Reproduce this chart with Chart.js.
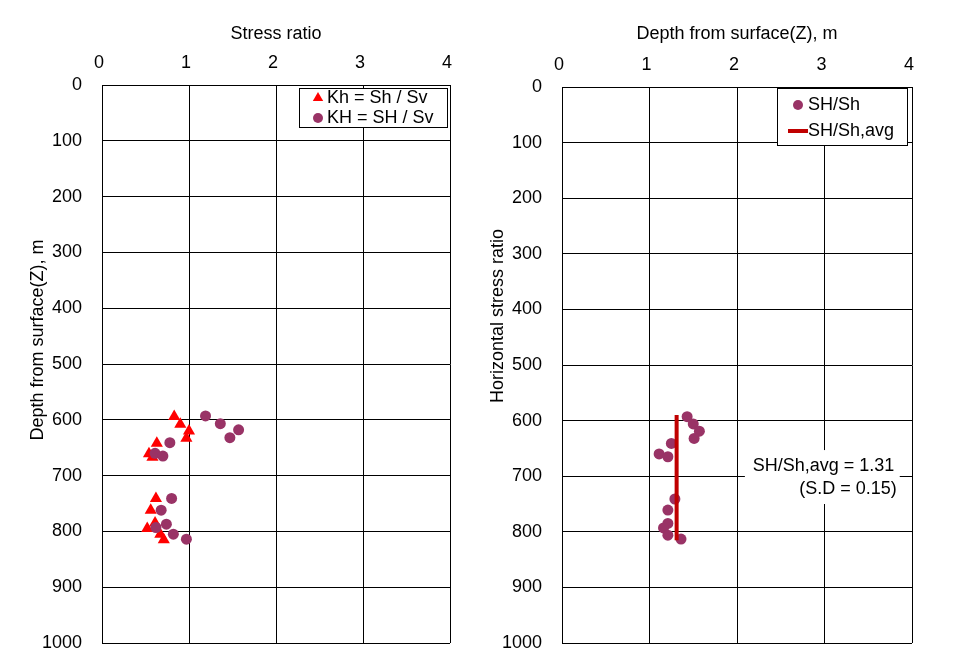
<!DOCTYPE html>
<html>
<head>
<meta charset="utf-8">
<script src="https://cdn.jsdelivr.net/npm/chart.js@4.4.0/dist/chart.umd.min.js"></script>
<style>
  body { margin: 0; background: #fff; }
  .box { position: absolute; top: 0; height: 662px; }
</style>
</head>
<body>
<div class="box" style="left:0;width:480px"><canvas id="ratioChart"></canvas></div>
<div class="box" style="left:480px;width:473px"><canvas id="shChart"></canvas></div>
<script>
// data (depth in m)
const depthKh = [594, 608, 620, 633, 642, 661, 667, 741, 762, 785, 795, 805, 815];
const Kh = [0.83, 0.90, 1.00, 0.97, 0.63, 0.54, 0.58, 0.62, 0.56, 0.61, 0.52, 0.67, 0.71];
const depthKH = [593, 607, 618, 632, 641, 660, 665, 741, 762, 787, 793, 805, 814];
const KH = [1.19, 1.36, 1.57, 1.47, 0.78, 0.61, 0.70, 0.80, 0.68, 0.74, 0.62, 0.82, 0.97];
const depthSH = [593, 606, 619, 632, 641, 660, 665, 741, 761, 785, 793, 806, 813];
const SHSh = [1.43, 1.50, 1.57, 1.51, 1.25, 1.11, 1.21, 1.29, 1.21, 1.21, 1.16, 1.21, 1.36];
const avgDepths = [590, 815];
const avgRatio = 1.31;
const sdRatio = 0.15;

const ratioTicks = [0, 1, 2, 3, 4];
const depthTicks = [0, 100, 200, 300, 400, 500, 600, 700, 800, 900, 1000];

Chart.defaults.font.family = '"Liberation Sans", Arial, sans-serif';
Chart.defaults.font.size = 18;
Chart.defaults.color = '#000';

const toPoints = (xs, ys) => xs.map((v, i) => ({ x: v, y: ys[i] }));

// legend with a frame, drawn inside the plot area
const boxLegend = {
  id: 'boxLegend',
  afterDraw(chart, args, o) {
    const { ctx, chartArea } = chart;
    const left = chartArea.right - o.right - o.width;
    const top = chartArea.top + o.top;
    ctx.save();
    ctx.fillStyle = '#fff';
    ctx.fillRect(left, top, o.width, o.height);
    ctx.strokeStyle = '#000';
    ctx.lineWidth = 1;
    ctx.strokeRect(Math.round(left) + 0.5, Math.round(top) + 0.5, o.width, o.height);
    ctx.font = '18px "Liberation Sans"';
    ctx.textBaseline = 'middle';
    chart.data.datasets.forEach((ds, i) => {
      const y = top + o.firstRow + i * o.rowGap;
      const mx = left + o.markerX;
      if (ds.showLine) {
        ctx.strokeStyle = ds.borderColor;
        ctx.lineWidth = ds.borderWidth;
        ctx.beginPath();
        ctx.moveTo(mx - 10, y);
        ctx.lineTo(mx + 10, y);
        ctx.stroke();
      } else {
        ctx.fillStyle = ds.backgroundColor;
        Chart.helpers.drawPoint(ctx, { pointStyle: ds.pointStyle, radius: ds.pointStyle === 'triangle' ? 6 : 5, borderWidth: 0 }, mx, y);
      }
      ctx.fillStyle = '#000';
      ctx.fillText(ds.label, left + o.textX, y);
    });
    ctx.restore();
  }
};

// rotated y axis title placed freely
const sideTitle = {
  id: 'sideTitle',
  afterDraw(chart, args, o) {
    const { ctx } = chart;
    ctx.save();
    ctx.translate(o.x, o.y);
    ctx.rotate(-Math.PI / 2);
    ctx.font = '18px "Liberation Sans"';
    ctx.fillStyle = '#000';
    ctx.textAlign = 'center';
    ctx.textBaseline = 'middle';
    ctx.fillText(o.text, 0, 0);
    ctx.restore();
  }
};

// white note box with the average
const noteBox = {
  id: 'noteBox',
  beforeDatasetsDraw(chart, args, o) {
    const { ctx } = chart;
    const xs = chart.scales.x, ys = chart.scales.y;
    const l = xs.getPixelForValue(o.box[0]), r = xs.getPixelForValue(o.box[1]);
    const t = ys.getPixelForValue(o.box[2]), b = ys.getPixelForValue(o.box[3]);
    ctx.save();
    ctx.fillStyle = '#fff';
    ctx.fillRect(l, t, r - l, b - t);
    ctx.font = '18px "Liberation Sans"';
    ctx.fillStyle = '#000';
    ctx.textBaseline = 'middle';
    ctx.textAlign = 'left';
    ctx.fillText('SH/Sh,avg = ' + avgRatio.toFixed(2), xs.getPixelForValue(o.line1[0]), ys.getPixelForValue(o.line1[1]));
    ctx.textAlign = 'right';
    ctx.fillText('(S.D = ' + sdRatio.toFixed(2) + ')', xs.getPixelForValue(o.line2[0]), ys.getPixelForValue(o.line2[1]));
    ctx.restore();
  }
};

function makeScales(yWidth, xHeight, titleText, titleOffset) {
  return {
    x: {
      type: 'linear',
      position: 'top',
      min: 0,
      max: 4,
      afterBuildTicks: (s) => { s.ticks = ratioTicks.map(v => ({ value: v })); },
      afterFit: (s) => { s.height = xHeight; },
      grid: { color: '#000', lineWidth: 1, drawTicks: false },
      border: { color: '#000' },
      ticks: { padding: 11, labelOffset: -3, font: { size: 18 }, callback: (v) => String(v) },
      title: { display: true, text: titleText, padding: { top: titleOffset, bottom: 0 }, font: { size: 18 } }
    },
    y: {
      type: 'linear',
      reverse: true,
      min: 0,
      max: 1000,
      afterBuildTicks: (s) => { s.ticks = depthTicks.map(v => ({ value: v })); },
      afterFit: (s) => {
        s.width = yWidth;
        // labels may overhang, plot edges come from layout padding
        s.paddingTop = 0;
        s.paddingBottom = 0;
      },
      grid: { color: '#000', lineWidth: 1, drawTicks: false },
      border: { color: '#000' },
      ticks: { padding: 20, font: { size: 18 }, callback: (v) => String(v) }
    }
  };
}

// left chart: stress ratio vs depth
new Chart(document.getElementById('ratioChart'), {
  type: 'scatter',
  data: {
    datasets: [
      {
        label: 'Kh = Sh / Sv',
        data: toPoints(Kh, depthKh),
        pointStyle: 'triangle',
        pointRadius: 7,
        backgroundColor: '#ff0000',
        borderWidth: 0,
        order: 2
      },
      {
        label: 'KH = SH / Sv',
        data: toPoints(KH, depthKH),
        pointStyle: 'circle',
        pointRadius: 5.5,
        backgroundColor: '#993366',
        borderWidth: 0,
        order: 1
      }
    ]
  },
  options: {
    responsive: true,
    maintainAspectRatio: false,
    animation: false,
    layout: { padding: { left: 0, top: 0, right: 30, bottom: 19 } },
    scales: makeScales(102, 85, 'Stress ratio', 23),
    plugins: {
      legend: { display: false },
      tooltip: { enabled: false },
      boxLegend: { right: 3, top: 3, width: 148, height: 39, firstRow: 10, rowGap: 20, markerX: 19, textX: 28 },
      sideTitle: { text: 'Depth from surface(Z), m', x: 38, y: 340 }
    }
  },
  plugins: [boxLegend, sideTitle]
});

// right chart: SH/Sh vs depth
new Chart(document.getElementById('shChart'), {
  type: 'scatter',
  data: {
    datasets: [
      {
        label: 'SH/Sh',
        data: toPoints(SHSh, depthSH),
        pointStyle: 'circle',
        pointRadius: 5.5,
        backgroundColor: '#993366',
        borderWidth: 0,
        order: 1
      },
      {
        label: 'SH/Sh,avg',
        data: avgDepths.map(d => ({ x: avgRatio, y: d })),
        showLine: true,
        borderColor: '#c00000',
        backgroundColor: '#c00000',
        borderWidth: 4,
        pointRadius: 0,
        order: 0
      }
    ]
  },
  options: {
    responsive: true,
    maintainAspectRatio: false,
    animation: false,
    layout: { padding: { left: 0, top: 0, right: 41, bottom: 19 } },
    scales: makeScales(82, 87, 'Depth from surface(Z), m', 23),
    plugins: {
      legend: { display: false },
      tooltip: { enabled: false },
      boxLegend: { right: 5, top: 1, width: 130, height: 57, firstRow: 17, rowGap: 26, markerX: 21, textX: 31 },
      sideTitle: { text: 'Horizontal stress ratio', x: 18, y: 316 },
      noteBox: { box: [2.09, 3.86, 653, 750], line1: [2.18, 682], line2: [3.825, 723] }
    }
  },
  plugins: [boxLegend, sideTitle, noteBox]
});
</script>
</body>
</html>
